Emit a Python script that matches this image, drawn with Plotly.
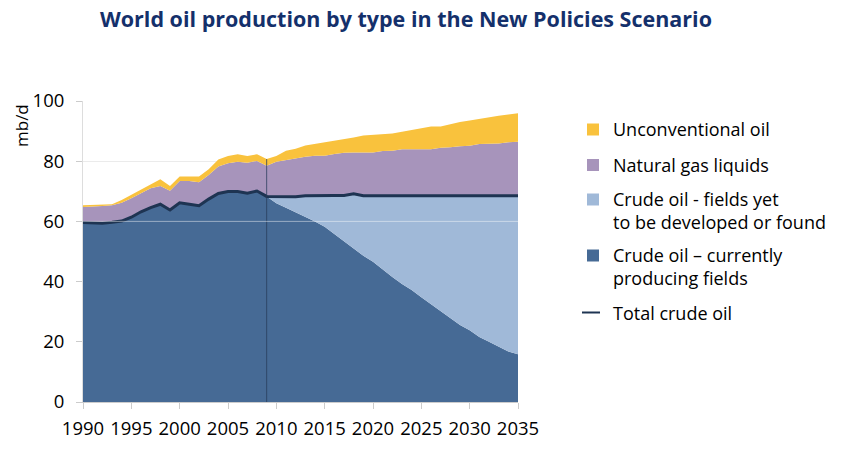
import plotly.graph_objects as go

years = list(range(1990, 2036))

# Total crude oil (mb/d)
crude_total = [59.6, 59.5, 59.4, 59.7, 60.1, 61.4, 63.2, 64.6, 65.7, 63.8,
               66.2, 65.7, 65.2, 67.4, 69.3, 69.9, 69.9, 69.4, 70.1, 68.3,
               68.2, 68.2, 68.2, 68.5, 68.6, 68.6, 68.6, 68.6, 69.2, 68.5,
               68.5, 68.5, 68.5, 68.5, 68.5, 68.5, 68.5, 68.5, 68.5, 68.5,
               68.5, 68.5, 68.5, 68.5, 68.5, 68.5]

# Crude oil from currently producing fields (mb/d)
crude_producing = [59.6, 59.5, 59.4, 59.7, 60.1, 61.4, 63.2, 64.6, 65.7, 63.8,
                   66.2, 65.7, 65.2, 67.4, 69.3, 69.9, 69.9, 69.4, 70.1, 68.3,
                   66.0, 64.5, 63.0, 61.5, 60.0, 58.2, 55.8, 53.3, 51.0, 48.6,
                   46.6, 44.0, 41.5, 39.2, 37.2, 34.8, 32.5, 30.0, 28.0, 25.6,
                   23.8, 21.6, 20.0, 18.4, 16.8, 15.9]

# Crude oil + natural gas liquids (cumulative top, mb/d)
crude_plus_ngl = [64.8, 64.9, 65.1, 65.4, 66.2, 67.7, 69.3, 71.0, 71.8, 70.2,
                  73.4, 73.4, 73.0, 75.4, 78.2, 79.3, 79.8, 79.5, 80.1, 78.5,
                  79.8, 80.4, 80.9, 81.5, 81.8, 81.8, 82.4, 82.8, 82.9, 82.9,
                  82.9, 83.4, 83.5, 84.0, 84.0, 84.0, 84.0, 84.5, 84.6, 85.0,
                  85.1, 85.7, 85.8, 85.9, 86.3, 86.5]

# All liquids incl. unconventional oil (cumulative top, mb/d)
all_liquids = [65.4, 65.5, 65.6, 65.7, 67.1, 68.8, 70.4, 72.3, 74.0, 71.8,
               74.9, 74.9, 74.9, 77.3, 80.6, 81.7, 82.3, 81.7, 82.3, 80.7,
               81.7, 83.5, 84.1, 85.2, 85.7, 86.2, 86.8, 87.4, 87.9, 88.5,
               88.7, 89.1, 89.2, 89.8, 90.4, 90.9, 91.5, 91.5, 92.3, 93.0,
               93.5, 94.1, 94.5, 95.1, 95.5, 95.9]

base_year = 2009
tick_years = [1990, 1995, 2000, 2005, 2010, 2015, 2020, 2025, 2030, 2035]

legend_labels = ["Unconventional oil",
                 "Natural gas liquids",
                 "Crude oil - fields yet<br>to be developed or found",
                 "Crude oil \u2013 currently<br>producing fields",
                 "Total crude oil"]

C_UNCONV = "#F9C23D"
C_NGL = "#A794BB"
C_YTF = "#A0B9D8"
C_PROD = "#466A95"
C_LINE = "#1E3452"
FONT = "Open Sans"

W, H = 843, 454
ML, MR, MT, MB = 83, 325, 101, 52
PW, PH = W - ML - MR, H - MT - MB


def px_x(xp):
    return (xp - ML) / PW


def px_y(yp):
    return (H - MB - yp) / PH


fig = go.Figure()

fig.add_trace(go.Scatter(
    x=years, y=crude_producing, mode="lines", line=dict(width=0),
    fill="tozeroy", fillcolor=C_PROD, name=legend_labels[3].replace("<br>", " ")))
fig.add_trace(go.Scatter(
    x=years, y=crude_total, mode="lines", line=dict(width=0),
    fill="tonexty", fillcolor=C_YTF, name=legend_labels[2].replace("<br>", " ")))
fig.add_trace(go.Scatter(
    x=years, y=crude_plus_ngl, mode="lines", line=dict(width=0),
    fill="tonexty", fillcolor=C_NGL, name=legend_labels[1]))
fig.add_trace(go.Scatter(
    x=years, y=all_liquids, mode="lines", line=dict(width=0),
    fill="tonexty", fillcolor=C_UNCONV, name=legend_labels[0]))
fig.add_trace(go.Scatter(
    x=years, y=crude_total, mode="lines", line=dict(width=3, color=C_LINE),
    name=legend_labels[4]))

base_idx = years.index(base_year)
shapes = [
    dict(type="line", xref="x", yref="y",
         x0=base_year, x1=base_year, y0=0, y1=all_liquids[base_idx],
         line=dict(color="rgba(40,60,90,0.75)", width=1), layer="above"),
    dict(type="line", xref="x", yref="y",
         x0=years[0], x1=years[-1], y0=60, y1=60,
         line=dict(color="rgba(255,255,255,0.45)", width=1), layer="above"),
]

annotations = [
    dict(text="mb/d", textangle=-90, xref="paper", yref="paper",
         x=px_x(22), y=px_y(125), xanchor="center", yanchor="middle",
         showarrow=False, font=dict(family=FONT, size=17, color="#000")),
    dict(text="<b>World oil production by type in the New Policies Scenario</b>",
         xref="paper", yref="paper", x=px_x(406), y=px_y(18),
         xanchor="center", yanchor="middle", showarrow=False,
         font=dict(family=FONT, size=21.5, color="#14306B")),
]

# custom legend
swatch_colors = [C_UNCONV, C_NGL, C_YTF, C_PROD]
swatch_centers = [129.5, 165, 199.5, 255.5]
text_centers = [129, 165, 210, 266.5, 313]
for c, yc in zip(swatch_colors, swatch_centers):
    shapes.append(dict(type="rect", xref="paper", yref="paper",
                       x0=px_x(587), x1=px_x(599), y0=px_y(yc + 6), y1=px_y(yc - 6),
                       fillcolor=c, line=dict(width=0)))
shapes.append(dict(type="line", xref="paper", yref="paper",
                   x0=px_x(582), x1=px_x(600), y0=px_y(312.5), y1=px_y(312.5),
                   line=dict(color=C_LINE, width=2)))
for lab, yc in zip(legend_labels, text_centers):
    annotations.append(dict(text=lab, xref="paper", yref="paper",
                            x=px_x(611), y=px_y(yc), xanchor="left", yanchor="middle",
                            align="left", showarrow=False,
                            font=dict(family=FONT, size=18, color="#000")))

fig.update_layout(
    width=W, height=H,
    margin=dict(l=ML, r=MR, t=MT, b=MB),
    paper_bgcolor="white", plot_bgcolor="white",
    font=dict(family=FONT, color="#000000", size=18),
    showlegend=False,
    shapes=shapes,
    annotations=annotations,
    xaxis=dict(range=[1990, 2035], tickvals=tick_years, ticks="outside",
               ticklen=6, tickcolor="#cccccc", showgrid=False, zeroline=False,
               showline=True, linecolor="#cccccc", linewidth=1,
               ticklabelstandoff=4,
               tickfont=dict(family=FONT, size=18.5)),
    yaxis=dict(range=[0, 100], dtick=20, ticks="outside", ticklen=6,
               tickcolor="#cccccc", showgrid=True, gridcolor="#ebebeb",
               zeroline=False, showline=True, linecolor="#dddddd",
               ticklabelstandoff=8,
               tickfont=dict(family=FONT, size=18.5)),
)

fig.write_html("out.html")
